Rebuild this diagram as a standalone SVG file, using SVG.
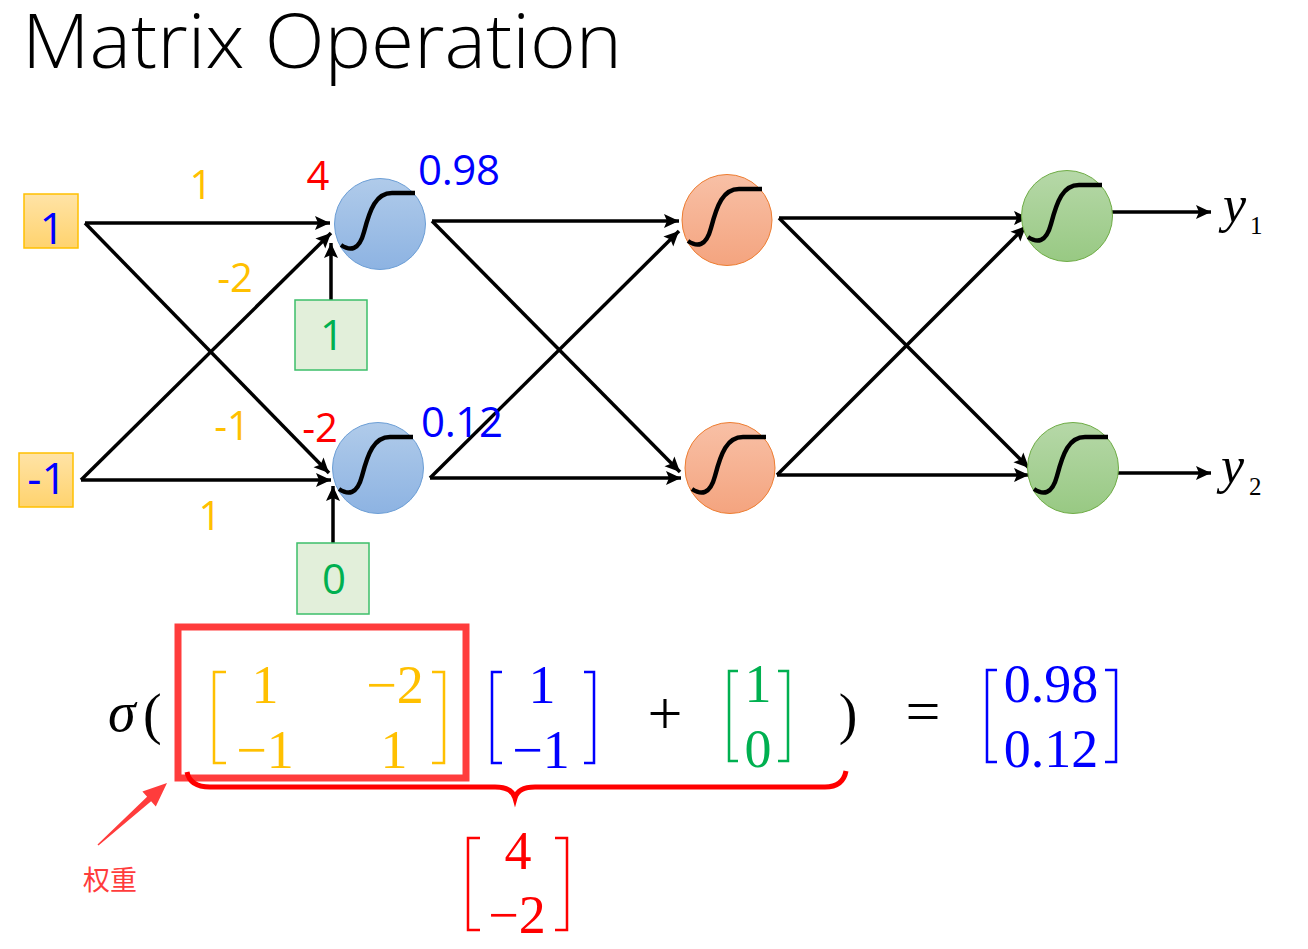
<svg xmlns="http://www.w3.org/2000/svg" width="1308" height="949" viewBox="0 0 1308 949">
<style>
.t{font-family:"Open Sans","Noto Sans",sans-serif}
.m{font-family:"Liberation Serif","DejaVu Serif",serif}
.e{stroke:#000;stroke-width:3.5;fill:none;marker-end:url(#ah)}
.sig{stroke:#000;stroke-width:4.5;fill:none;stroke-linecap:butt}
.brk{fill:none;stroke-width:2.5}
</style>
<defs>
<marker id="ah" markerUnits="userSpaceOnUse" markerWidth="18" markerHeight="16" refX="15" refY="8" orient="auto">
<path d="M0,1 L15,8 L0,15 L3,8 Z" fill="#000"/>
</marker>
<linearGradient id="gb" x1="0" y1="0" x2="0" y2="1"><stop offset="0" stop-color="#b0cbea"/><stop offset="1" stop-color="#8db3e2"/></linearGradient>
<linearGradient id="go" x1="0" y1="0" x2="0" y2="1"><stop offset="0" stop-color="#f8c0a6"/><stop offset="1" stop-color="#f4a47f"/></linearGradient>
<linearGradient id="gg" x1="0" y1="0" x2="0" y2="1"><stop offset="0" stop-color="#b6d8a8"/><stop offset="1" stop-color="#98c983"/></linearGradient>
<linearGradient id="gy" x1="0" y1="0" x2="0" y2="1"><stop offset="0" stop-color="#ffe3a6"/><stop offset="1" stop-color="#ffd36e"/></linearGradient>
<path id="s" d="M-39,21 C-30,27 -21,27 -16,8 C-10,-15 -4,-31 12,-31 L35,-31"/>
</defs>
<rect width="1308" height="949" fill="#fff"/>
<text class="t" x="22" y="68" font-size="76" font-weight="300" textLength="600" lengthAdjust="spacingAndGlyphs" fill="#000">Matrix Operation</text>

<g id="connectors">
<line class="e" x1="85" y1="223" x2="330" y2="223"/>
<line class="e" x1="85" y1="223" x2="329" y2="473"/>
<line class="e" x1="81" y1="480" x2="331" y2="480"/>
<line class="e" x1="81" y1="480" x2="331" y2="233"/>
<line class="e" x1="331" y1="300" x2="331" y2="243"/>
<line class="e" x1="333" y1="543" x2="333" y2="486"/>
<line class="e" x1="432" y1="221" x2="679" y2="221"/>
<line class="e" x1="432" y1="221" x2="680" y2="472"/>
<line class="e" x1="430" y1="478" x2="681" y2="478"/>
<line class="e" x1="430" y1="478" x2="679" y2="231"/>
<line class="e" x1="779" y1="218" x2="1029" y2="218"/>
<line class="e" x1="779" y1="218" x2="1029" y2="468"/>
<line class="e" x1="777" y1="475" x2="1029" y2="475"/>
<line class="e" x1="777" y1="475" x2="1026" y2="226"/>
<line class="e" x1="1112" y1="212" x2="1211" y2="212"/>
<line class="e" x1="1118" y1="473" x2="1211" y2="473"/>
</g>

<g id="in1"><rect x="24" y="194" width="54" height="54" fill="url(#gy)" stroke="#ffc000" stroke-width="1.5"/><text class="t" x="52" y="244" font-size="44" text-anchor="middle" fill="#0000ff">1</text></g>
<g id="in2"><rect x="19" y="453" width="54" height="54" fill="url(#gy)" stroke="#ffc000" stroke-width="1.5"/><text class="t" x="47" y="494" font-size="44" text-anchor="middle" fill="#0000ff">-1</text></g>

<g id="b1"><rect x="295" y="300" width="72" height="70" fill="#e2efda" stroke="#3cbf6a" stroke-width="1.5"/><text class="t" x="332" y="350" font-size="42" text-anchor="middle" fill="#00b050">1</text></g>
<g id="b2"><rect x="297" y="543" width="72" height="71" fill="#e2efda" stroke="#3cbf6a" stroke-width="1.5"/><text class="t" x="334" y="594" font-size="42" text-anchor="middle" fill="#00b050">0</text></g>

<g id="h1"><circle cx="380" cy="224" r="45.5" fill="url(#gb)" stroke="#6d9fd6" stroke-width="1"/><use href="#s" class="sig" transform="translate(380,224)"/></g>
<g id="h2"><circle cx="378" cy="468" r="45.5" fill="url(#gb)" stroke="#6d9fd6" stroke-width="1"/><use href="#s" class="sig" transform="translate(378,468)"/></g>
<g id="o1"><ellipse cx="727" cy="220" rx="45" ry="45.5" fill="url(#go)" stroke="#ed7d31" stroke-width="1"/><use href="#s" class="sig" transform="translate(727,220)"/></g>
<g id="o2"><ellipse cx="730" cy="468" rx="45" ry="45.5" fill="url(#go)" stroke="#ed7d31" stroke-width="1"/><use href="#s" class="sig" transform="translate(731,468)"/></g>
<g id="g1"><ellipse cx="1067" cy="216" rx="45.5" ry="45.5" fill="url(#gg)" stroke="#70ad47" stroke-width="1"/><use href="#s" class="sig" transform="translate(1067,216)"/></g>
<g id="g2"><ellipse cx="1073" cy="468" rx="45.5" ry="45.5" fill="url(#gg)" stroke="#70ad47" stroke-width="1"/><use href="#s" class="sig" transform="translate(1073,468)"/></g>

<g id="labels">
<text class="t" x="201" y="199" font-size="40" text-anchor="middle" fill="#ffc000">1</text>
<text class="t" x="235" y="292" font-size="40" text-anchor="middle" fill="#ffc000">-2</text>
<text class="t" x="232" y="440" font-size="40" text-anchor="middle" fill="#ffc000">-1</text>
<text class="t" x="210" y="530" font-size="40" text-anchor="middle" fill="#ffc000">1</text>
<text class="t" x="318" y="190" font-size="40" text-anchor="middle" fill="#ff0000">4</text>
<text class="t" x="320" y="442" font-size="40" text-anchor="middle" fill="#ff0000">-2</text>
<text class="t" x="418" y="185" font-size="42" textLength="82" fill="#0000ff">0.98</text>
<text class="t" x="421" y="437" font-size="42" textLength="82" fill="#0000ff">0.12</text>
<text class="m" x="1223" y="222" font-size="52" font-style="italic" fill="#000">y</text>
<text class="m" x="1250" y="234" font-size="25" fill="#000">1</text>
<text class="m" x="1221" y="483" font-size="52" font-style="italic" fill="#000">y</text>
<text class="m" x="1249" y="495" font-size="25" fill="#000">2</text>
</g>

<g id="formula">
<text class="m" x="108" y="731" font-size="56" font-style="italic" fill="#000">σ</text>
<text class="m" x="143" y="733" font-size="56" fill="#000">(</text>
<rect x="178" y="627" width="288" height="151" fill="none" stroke="#ff3c3c" stroke-width="7"/>
<g stroke="#ffc000">
<path class="brk" d="M226,672 H214 V763 H226"/>
<path class="brk" d="M432,672 H444 V763 H432"/>
</g>
<g class="m" font-size="54" fill="#ffc000">
<text x="265" y="703" text-anchor="middle">1</text>
<text x="395" y="703" text-anchor="middle">−2</text>
<text x="265" y="768" text-anchor="middle">−1</text>
<text x="394" y="768" text-anchor="middle">1</text>
</g>
<g stroke="#0000ff">
<path class="brk" d="M502,672 H492 V763 H502"/>
<path class="brk" d="M584,672 H594 V763 H584"/>
</g>
<g class="m" font-size="54" fill="#0000ff">
<text x="542" y="703" text-anchor="middle">1</text>
<text x="541" y="768" text-anchor="middle">−1</text>
</g>
<text class="m" x="665" y="734" font-size="62" text-anchor="middle" fill="#000">+</text>
<g stroke="#00b050">
<path class="brk" d="M738,671 H729 V761 H738"/>
<path class="brk" d="M778,671 H788 V761 H778"/>
</g>
<g class="m" font-size="54" fill="#00b050">
<text x="758" y="702" text-anchor="middle">1</text>
<text x="758" y="767" text-anchor="middle">0</text>
</g>
<text class="m" x="848" y="733" font-size="56" text-anchor="middle" fill="#000">)</text>
<text class="m" x="923" y="732" font-size="62" text-anchor="middle" fill="#000">=</text>
<g stroke="#0000ff">
<path class="brk" d="M997,670 H987 V762 H997"/>
<path class="brk" d="M1105,670 H1116 V762 H1105"/>
</g>
<g class="m" font-size="54" fill="#0000ff">
<text x="1051" y="702" text-anchor="middle">0.98</text>
<text x="1051" y="767" text-anchor="middle">0.12</text>
</g>
<path d="M187,772 Q190,787 210,787 L495,787 Q512,787 515,798 Q518,787 535,787 L825,787 Q843,787 846,771" fill="none" stroke="#ff0000" stroke-width="5"/>
<g stroke="#ff0000">
<path class="brk" d="M480,838 H468 V930 H480"/>
<path class="brk" d="M555,838 H567 V930 H555"/>
</g>
<g class="m" font-size="54" fill="#ff0000">
<text x="518" y="869" text-anchor="middle">4</text>
<text x="517" y="933" text-anchor="middle">−2</text>
</g>
</g>

<g id="note">
<polygon points="97.5,844.4 147.1,796.8 142.4,791.6 167,783 155.8,806.4 151.1,801.2 98.5,845.6" fill="#ff3c3c"/>
<text x="110" y="890" font-size="27" text-anchor="middle" fill="#ff3c3c" font-family="'Noto Sans CJK SC',sans-serif">权重</text>
</g>
</svg>
